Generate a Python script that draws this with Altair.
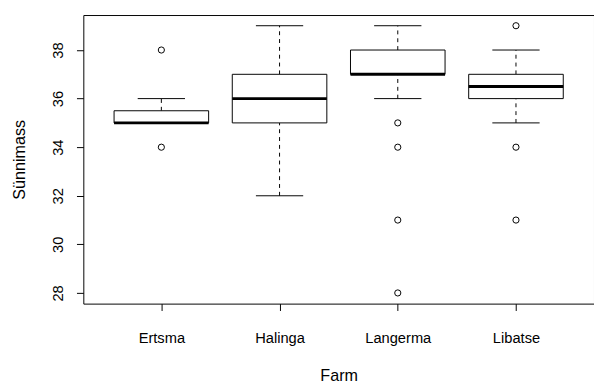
import json
import altair as alt
import pandas as pd

# ---- data ----
farms = ["Ertsma", "Halinga", "Langerma", "Libatse"]
q1 = [35, 35, 37, 36]
med = [35, 36, 37, 36.5]
q3 = [35.5, 37, 38, 37]
lo = [35, 32, 36, 35]
hi = [36, 39, 39, 38]
out_farm = ["Ertsma", "Ertsma", "Langerma", "Langerma", "Langerma", "Langerma",
            "Libatse", "Libatse", "Libatse"]
out_val = [38, 34, 35, 34, 31, 28, 39, 34, 31]
y_ticks = [28, 30, 32, 34, 36, 38]

pos = list(range(1, len(farms) + 1))
box = pd.DataFrame({"farm": farms, "pos": pos, "q1": q1, "med": med, "q3": q3,
                    "lo": lo, "hi": hi})
box["left"] = box["pos"] - 0.4
box["right"] = box["pos"] + 0.4
box["capl"] = box["pos"] - 0.2
box["capr"] = box["pos"] + 0.2
outl = pd.DataFrame({"farm": out_farm, "val": out_val})
outl["pos"] = [farms.index(f) + 1 for f in out_farm]

FONT = "Liberation Sans"
xscale = alt.Scale(domain=[0.34, 4.66], nice=False, zero=False)
yscale = alt.Scale(domain=[27.56, 39.44], nice=False, zero=False)
xaxis = alt.Axis(values=pos, labelExpr=json.dumps(farms) + "[datum.value-1]",
                 title="Farm", tickSize=7, labelPadding=33, labelBaseline="alphabetic",
                 titleBaseline="alphabetic", titleY=79, titleX=261, labelAngle=0)
yaxis = alt.Axis(values=y_ticks, title="Sünnimass", tickSize=7, labelAngle=270,
                 labelAlign="center", labelBaseline="alphabetic", labelPadding=14,
                 titleAngle=270, titleBaseline="alphabetic", titleAlign="center",
                 titleX=-60, titleY=147.5)

base = alt.Chart(box)

wh_up = base.mark_rule(color="black", strokeWidth=1, strokeDash=[4, 4]).encode(
    x=alt.X("pos:Q", scale=xscale, axis=xaxis),
    y=alt.Y("q3:Q", scale=yscale, axis=yaxis), y2="hi:Q")
wh_dn = base.mark_rule(color="black", strokeWidth=1, strokeDash=[4, 4]).encode(
    x=alt.X("pos:Q", scale=xscale, axis=xaxis),
    y=alt.Y("lo:Q", scale=yscale, axis=yaxis), y2="q1:Q")
cap_up = base.mark_rule(color="black", strokeWidth=1).encode(
    x=alt.X("capl:Q", scale=xscale, axis=xaxis), x2="capr:Q",
    y=alt.Y("hi:Q", scale=yscale, axis=yaxis))
cap_dn = base.mark_rule(color="black", strokeWidth=1).encode(
    x=alt.X("capl:Q", scale=xscale, axis=xaxis), x2="capr:Q",
    y=alt.Y("lo:Q", scale=yscale, axis=yaxis))
rect = base.mark_rect(fill="white", stroke="black", strokeWidth=1).encode(
    x=alt.X("left:Q", scale=xscale, axis=xaxis), x2="right:Q",
    y=alt.Y("q1:Q", scale=yscale, axis=yaxis), y2="q3:Q")
median = base.mark_rule(color="black", strokeWidth=3).encode(
    x=alt.X("left:Q", scale=xscale, axis=xaxis), x2="right:Q",
    y=alt.Y("med:Q", scale=yscale, axis=yaxis))
points = alt.Chart(outl).mark_point(shape="circle", filled=False, color="black",
                                    size=40, strokeWidth=1, opacity=1).encode(
    x=alt.X("pos:Q", scale=xscale, axis=xaxis),
    y=alt.Y("val:Q", scale=yscale, axis=yaxis))

chart = alt.layer(wh_up, wh_dn, cap_up, cap_dn, rect, median, points).properties(
    width=522, height=295,
    padding={"left": 77, "top": 3, "right": 0, "bottom": 80},
    autosize=alt.AutoSizeParams(type="none"),
).configure_view(stroke="black", strokeWidth=1).configure_axis(
    grid=False, domain=False, tickColor="black", tickWidth=1,
    labelFont=FONT, labelFontSize=15, labelColor="black",
    titleFont=FONT, titleFontSize=16.5, titleFontWeight="normal", titleColor="black",
)

chart.save("out.html", embed_options={"renderer": "svg", "actions": False})
